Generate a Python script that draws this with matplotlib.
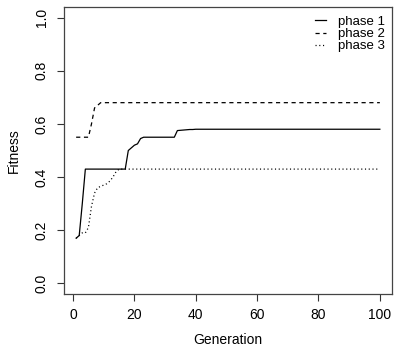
import matplotlib
matplotlib.use("Agg")
import matplotlib.pyplot as plt

# generations 1..100, fitness per phase
generation = list(range(1, 101))

phase1 = ([0.17, 0.18, 0.30] + [0.43] * 14 +
          [0.50, 0.51, 0.52, 0.525, 0.545] + [0.55] * 11 +
          [0.575, 0.576, 0.577, 0.578, 0.579, 0.579] + [0.58] * 61)
phase2 = [0.55] * 5 + [0.60, 0.66, 0.67] + [0.68] * 92
phase3 = ([0.17, 0.18, 0.19, 0.19, 0.21, 0.29, 0.34, 0.36, 0.365, 0.37,
           0.375, 0.385, 0.40, 0.42] + [0.43] * 86)

labels = ["phase 1", "phase 2", "phase 3"]
y_ticks = [0.0, 0.2, 0.4, 0.6, 0.8, 1.0]
x_ticks = [0, 20, 40, 60, 80, 100]

plt.rcParams["font.family"] = ["Liberation Sans", "DejaVu Sans"]
plt.rcParams["lines.scale_dashes"] = False

fs = 10
fig = plt.figure(figsize=(3.94, 3.52), dpi=100)
ax = fig.add_axes([64 / 394, 58 / 352, 328 / 394, 287 / 352])

lw = 0.9
ax.plot(generation, phase1, color="black", lw=lw, label=labels[0])
ax.plot(generation, phase2, color="black", lw=lw, linestyle=(0, (3.0, 2.6)), label=labels[1])
ax.plot(generation, phase3, color="black", lw=lw, linestyle=(0, (0.8, 1.9)), label=labels[2])

ax.set_xlim(1 - 0.04 * 99, 100 + 0.04 * 99)
ax.set_ylim(-0.04, 1.04)
ax.set_xticks(x_ticks)
ax.set_yticks(y_ticks)
ax.set_xticklabels([str(v) for v in x_ticks], fontsize=fs)
ax.set_yticklabels(["%.1f" % v for v in y_ticks], fontsize=fs, rotation=90, va="center")
ax.tick_params(direction="out", length=5, width=0.8, color="#333333")
ax.tick_params(axis="x", pad=5)
ax.tick_params(axis="y", pad=6)

for s in ax.spines.values():
    s.set_linewidth(0.9)
    s.set_color("#444444")

ax.set_xlabel("Generation", fontsize=fs, labelpad=8)
ax.set_ylabel("Fitness", fontsize=fs, labelpad=10)

ax.legend(loc="upper right", frameon=False, fontsize=9.5, handlelength=0.8,
          handletextpad=0.9, labelspacing=0.0, borderaxespad=0.15,
          bbox_to_anchor=(1.0, 0.995))

fig.savefig("out.png", dpi=100)
